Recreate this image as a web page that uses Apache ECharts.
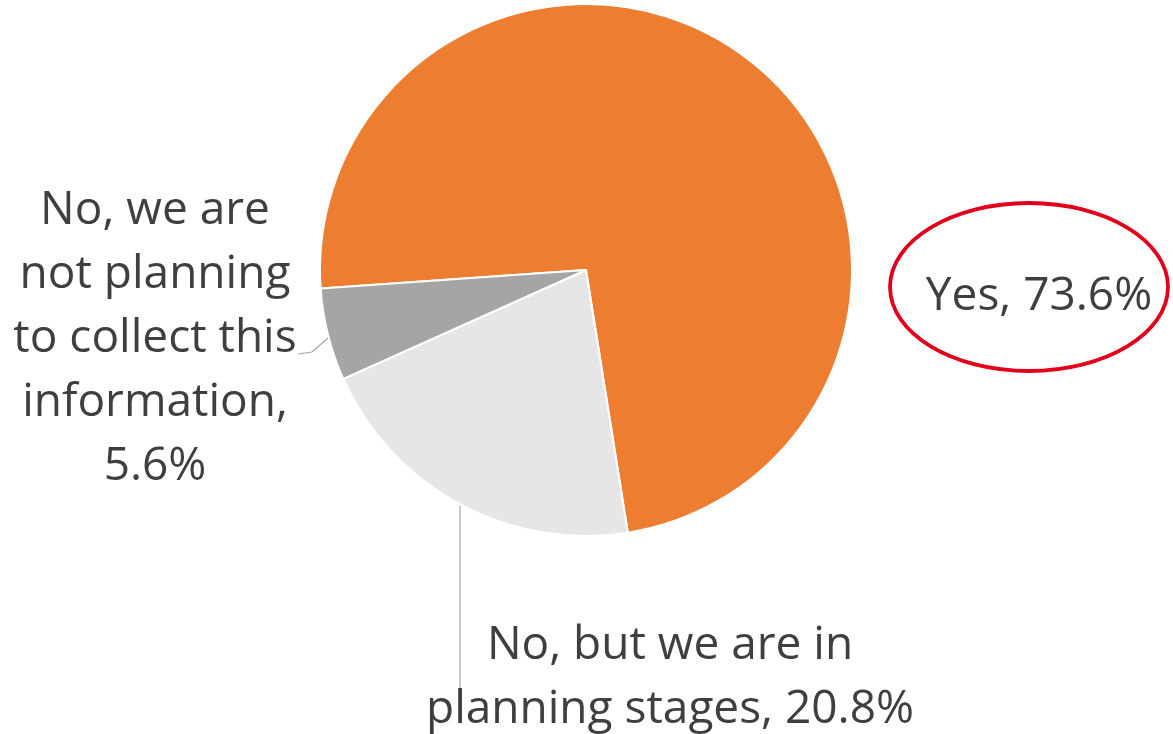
<!DOCTYPE html>
<html>
<head>
<meta charset="utf-8">
<script src="https://cdn.jsdelivr.net/npm/echarts@6/dist/echarts.min.js"></script>
<style>
html,body{margin:0;padding:0;background:#fff;}
#chart{width:1173px;height:734px;}
</style>
</head>
<body>
<div id="chart"></div>
<script>
// Data
const categories = [
  "Yes",
  "No, but we are in\nplanning stages",
  "No, we are\nnot planning\nto collect this\ninformation"
];
const values = [73.6, 20.8, 5.6];
const separators = [", ", ", ", ",\n"];
const sliceColors = ["#ED7D31", "#E7E6E6", "#A5A5A5"];

// Label placement (styles/positions)
const labelPos = [
  { x: 1039, y: 297, line: null },
  { x: 670, y: 678, line: [[460, 506], [460, 600], [460, 690]] },
  { x: 155, y: 339, line: [[328, 338], [312, 352], [298, 354]] }
];

const chart = echarts.init(document.getElementById('chart'), null, { renderer: 'canvas' });

const data = categories.map((c, i) => ({
  name: c,
  value: values[i],
  itemStyle: { color: sliceColors[i] },
  labelLine: { show: labelPos[i].line !== null }
}));

chart.setOption({
  animation: false,
  backgroundColor: '#ffffff',
  series: [{
    type: 'pie',
    center: [586, 270],
    radius: 266,
    startAngle: 184,
    clockwise: true,
    avoidLabelOverlap: false,
    data: data,
    itemStyle: { borderColor: '#ffffff', borderWidth: 2 },
    label: {
      show: true,
      position: 'outside',
      fontFamily: 'Open Sans',
      fontSize: 46,
      lineHeight: 64,
      color: '#3F3F3F',
      align: 'center',
      formatter: function (p) {
        return p.name + separators[p.dataIndex] + p.value.toFixed(1) + '%';
      }
    },
    labelLine: {
      show: true,
      lineStyle: { color: '#A6A6A6', width: 1.2 }
    },
    labelLayout: function (params) {
      const lp = labelPos[params.dataIndex];
      const out = { x: lp.x, y: lp.y, align: 'center', verticalAlign: 'middle' };
      if (lp.line) out.labelLinePoints = lp.line;
      return out;
    },
    emphasis: { disabled: true }
  }],
  graphic: [{
    type: 'ellipse',
    shape: { cx: 1029, cy: 287, rx: 139, ry: 84 },
    style: { fill: 'none', stroke: '#E2001A', lineWidth: 3.8 },
    silent: true
  }]
});
</script>
</body>
</html>
